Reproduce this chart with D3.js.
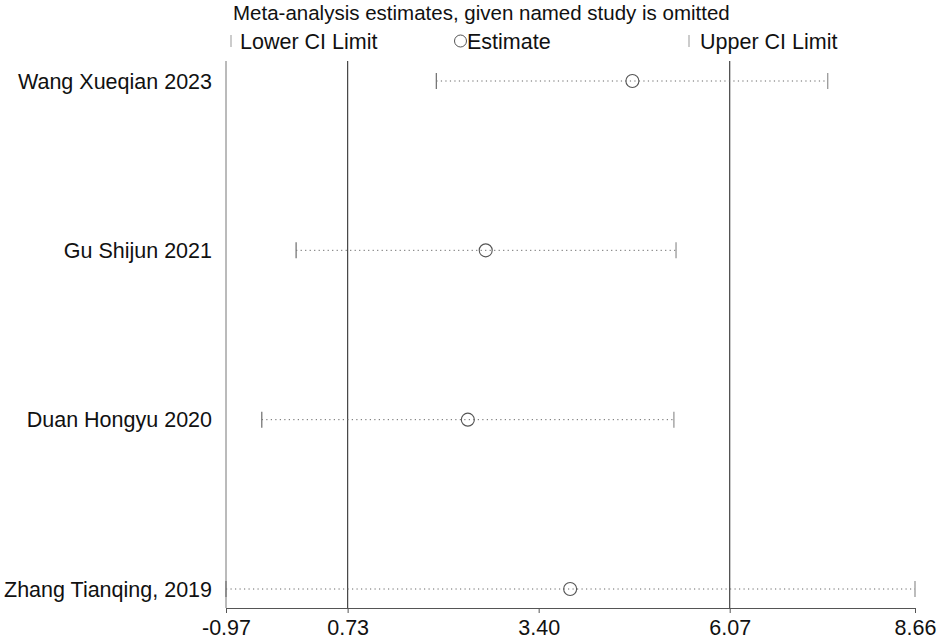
<!DOCTYPE html>
<html><head><meta charset="utf-8">
<script src="https://cdn.jsdelivr.net/npm/d3@7"></script>
<style>body{margin:0;background:#fff;} text{font-family:"Liberation Sans",Arial,sans-serif;}</style>
</head><body><svg id="c" width="945" height="643"></svg>
<script>
const studies = ["Wang Xueqian 2023","Gu Shijun 2021","Duan Hongyu 2020","Zhang Tianqing, 2019"];
const lower = [1.97, 0.01, -0.47, -0.97];
const estimate = [4.71, 2.66, 2.41, 3.84];
const upper = [7.44, 5.32, 5.29, 8.66];
const tickValues = [-0.97, 0.73, 3.40, 6.07, 8.66];
const refLines = [0.73, 6.07];

const svg = d3.select("#c");
const x = d3.scaleLinear().domain([-0.97, 8.66]).range([226, 915]);
const y = d3.scalePoint().domain(studies).range([81, 589]);
const plotTop = 61, axisY = 608;
const fs = 21.5;

// title & legend
svg.append("text").attr("x",233).attr("y",20).attr("font-size",20.5).attr("fill","#111")
  .text("Meta-analysis estimates, given named study is omitted");
const ly = 41;
svg.append("line").attr("x1",231).attr("x2",231).attr("y1",ly-6).attr("y2",ly+6).attr("stroke","#999");
svg.append("text").attr("x",240).attr("y",ly+7.5).attr("font-size",fs).attr("fill","#111").text("Lower CI Limit");
svg.append("circle").attr("cx",460.5).attr("cy",ly).attr("r",6).attr("fill","none").attr("stroke","#555");
svg.append("text").attr("x",467).attr("y",ly+7.5).attr("font-size",fs).attr("fill","#111").text("Estimate");
svg.append("line").attr("x1",689).attr("x2",689).attr("y1",ly-6).attr("y2",ly+6).attr("stroke","#999");
svg.append("text").attr("x",700).attr("y",ly+7.5).attr("font-size",fs).attr("fill","#111").text("Upper CI Limit");

// left axis line and reference lines
svg.append("line").attr("x1",x(-0.97)).attr("x2",x(-0.97)).attr("y1",plotTop).attr("y2",axisY)
  .attr("stroke","#777").attr("stroke-width",1);
svg.selectAll(".ref").data(refLines).enter().append("line")
  .attr("x1",d=>x(d)).attr("x2",d=>x(d)).attr("y1",plotTop).attr("y2",axisY)
  .attr("stroke","#444").attr("stroke-width",1.2);

// x axis
const axis = d3.axisBottom(x).tickValues(tickValues)
  .tickFormat(d=>d3.format(".2f")(d).replace("\u2212","-")).tickSize(5).tickPadding(7);
const ax = svg.append("g").attr("transform",`translate(0,${axisY})`).call(axis);
ax.select(".domain").attr("stroke","#555");
ax.selectAll(".tick line").attr("stroke","#555");
ax.selectAll(".tick text").attr("font-size",fs).attr("fill","#111").attr("font-family","Liberation Sans, Arial, sans-serif");

// rows
const data = studies.map((s,i)=>({s, lo:lower[i], est:estimate[i], hi:upper[i]}));
const g = svg.selectAll(".row").data(data).enter().append("g");
g.append("line").attr("x1",d=>x(d.lo)).attr("x2",d=>x(d.hi)).attr("y1",d=>y(d.s)).attr("y2",d=>y(d.s))
  .attr("stroke","#666").attr("stroke-width",1).attr("stroke-dasharray","1.2,3.3");
g.append("line").attr("x1",d=>x(d.lo)).attr("x2",d=>x(d.lo)).attr("y1",d=>y(d.s)-8).attr("y2",d=>y(d.s)+8)
  .attr("stroke","#777").attr("stroke-width",1.3);
g.append("line").attr("x1",d=>x(d.hi)).attr("x2",d=>x(d.hi)).attr("y1",d=>y(d.s)-8).attr("y2",d=>y(d.s)+8)
  .attr("stroke","#999").attr("stroke-width",1.3);
g.append("circle").attr("cx",d=>x(d.est)).attr("cy",d=>y(d.s)).attr("r",6.5)
  .attr("fill","none").attr("stroke","#555").attr("stroke-width",1.1);
g.append("text").attr("x",212).attr("y",d=>y(d.s)+7.5).attr("text-anchor","end")
  .attr("font-size",fs).attr("fill","#111").text(d=>d.s);
</script></body></html>
